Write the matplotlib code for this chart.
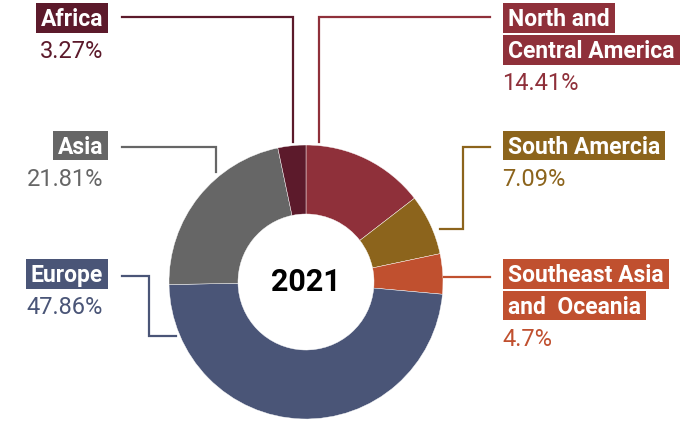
import matplotlib.pyplot as plt
from matplotlib.patches import Rectangle

# data, clockwise from 12 o'clock
regions = ['North and\nCentral America', 'South Amercia', 'Southeast Asia\nand  Oceania',
           'Europe', 'Asia', 'Africa']
shares = [14.41, 7.09, 4.7, 47.86, 21.81, 3.27]
colors = ['#8f303a', '#8c641c', '#c0502f', '#4a5577', '#666666', '#5c1a2b']
year = '2021'

W, H = 700, 422
fig = plt.figure(figsize=(7, 4.22), dpi=100)
ax = fig.add_axes([0, 0, 1, 1])

cx, cy, r = 306, H - 282, 137
ax.pie(shares, colors=colors, startangle=90, counterclock=False,
       center=(cx, cy), radius=r,
       wedgeprops=dict(width=69, edgecolor='white', linewidth=0.3))
ax.set_xlim(0, W)
ax.set_ylim(0, H)
ax.set_aspect('equal')
ax.axis('off')

ax.text(cx, cy, year, ha='center', va='center', fontsize=22,
        fontweight='bold', family='Roboto', color='black')

def y(p):
    return H - p

# label layout in px: x anchor, baselines of name lines, baseline of percent
layout = {
    'Africa': (103, [26], 58),
    'Asia': (103, [153.5], 186),
    'Europe': (103, [282], 314),
    'North and\nCentral America': (508, [26, 58], 90),
    'South Amercia': (508, [153.5], 186),
    'Southeast Asia\nand  Oceania': (508, [282, 313.5], 346),
}

# leader lines in px
leaders = {
    'Africa': [(122, 17), (293, 17), (293, 142)],
    'North and\nCentral America': [(490, 17), (319, 17), (319, 142)],
    'Asia': [(122, 147), (216, 147), (216, 172)],
    'South Amercia': [(490, 147), (463, 147), (463, 229), (440, 229)],
    'Southeast Asia\nand  Oceania': [(490, 277), (444, 277)],
    'Europe': [(122, 276), (149, 276), (149, 336), (176, 336)],
}

fig.canvas.draw()
renderer = fig.canvas.get_renderer()
inv = ax.transData.inverted()

for name, share, col in zip(regions, shares, colors):
    xa, bases, yp = layout[name]
    left = xa < cx
    ha = 'right' if left else 'left'
    for ln, b in zip(name.split('\n'), bases):
        t = ax.text(xa, y(b), ln, ha=ha, va='baseline', fontsize=16.5,
                    fontweight='bold', family='Roboto', color='white', zorder=3)
        ext = t.get_window_extent(renderer)
        x0 = inv.transform((ext.x0, 0))[0] - 5
        x1 = inv.transform((ext.x1, 0))[0] + 5
        ax.add_patch(Rectangle((x0, y(b + 6.5)), x1 - x0, 29.5,
                               fc=col, ec='none', zorder=2))
    xp = xa if left else xa - 6
    ax.text(xp, y(yp), f'{share}%', ha=ha, va='baseline', fontsize=17,
            family='Roboto', color=col)
    pts = leaders[name]
    ax.plot([p[0] for p in pts], [y(p[1]) for p in pts], color=col, lw=1.6,
            solid_joinstyle='miter')

fig.savefig('out.png', dpi=100)
